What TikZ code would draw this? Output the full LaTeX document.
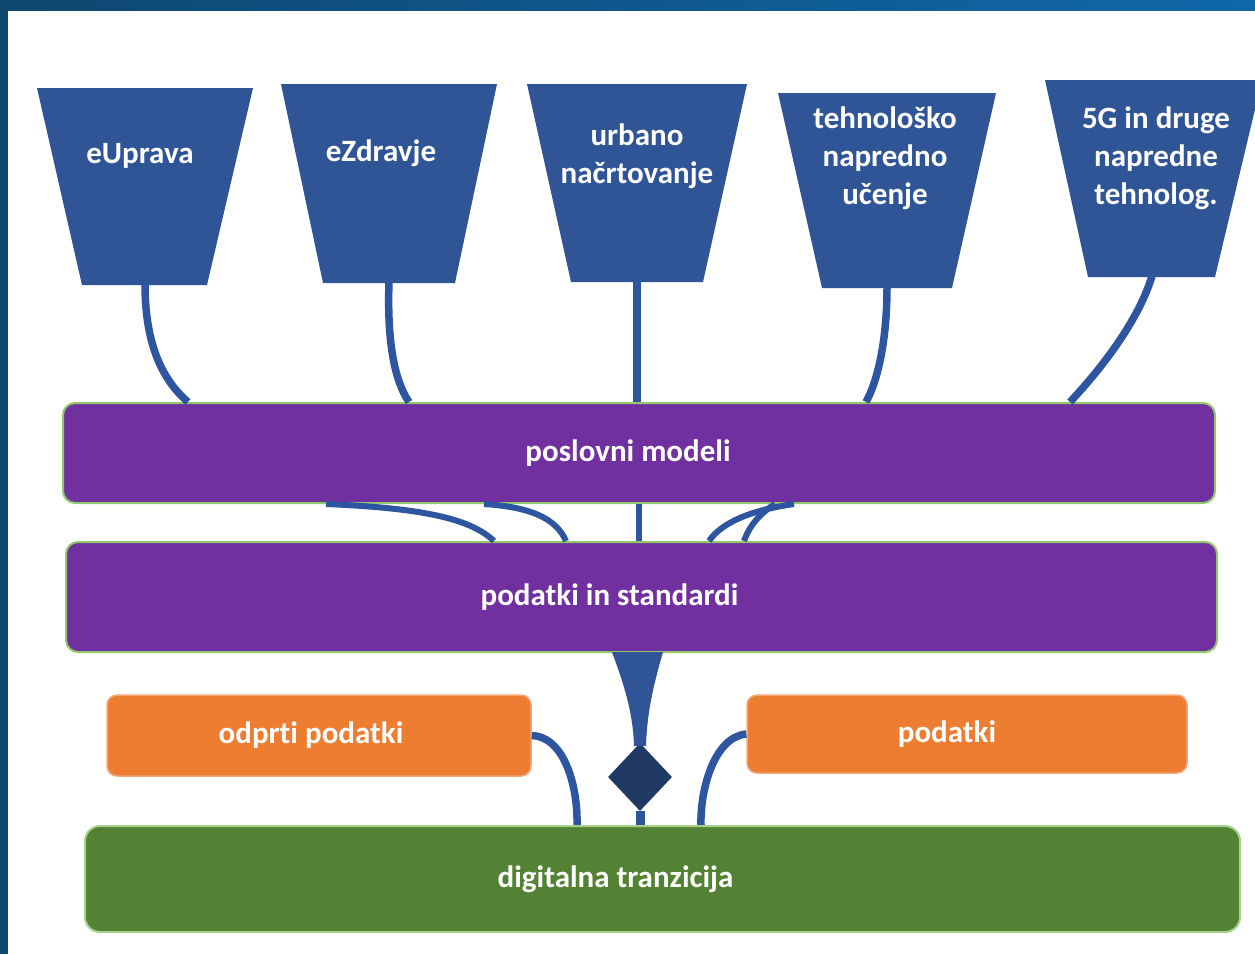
\documentclass[tikz,border=0pt]{standalone}
\usepackage{fontspec}
\setmainfont[Ligatures=NoCommon]{Carlito}
\usetikzlibrary{shapes.geometric}
\definecolor{tblue}{HTML}{2F5597}
\definecolor{lnblue}{HTML}{2E55A0}
\definecolor{purp}{HTML}{7030A0}
\definecolor{lgreen}{HTML}{93C86A}
\definecolor{orng}{HTML}{ED7D31}
\definecolor{lorng}{HTML}{F4A77A}
\definecolor{dgreen}{HTML}{548235}
\definecolor{lgreen2}{HTML}{A9D18E}
\definecolor{navy}{HTML}{1F3864}
\definecolor{barL}{HTML}{0E4770}
\definecolor{barR}{HTML}{1068A9}
\begin{document}
\begin{tikzpicture}[x=1pt,y=-1pt,
  trap/.style={fill=tblue},
  ttext/.style={text=white, font=\bfseries\fontsize{31}{38}\selectfont, align=center, inner sep=0pt},
  bartext/.style={text=white, font=\bfseries\fontsize{31}{38}\selectfont, inner sep=0pt},
  pbar/.style={bartext, rectangle, rounded corners=12pt, fill=purp, draw=lgreen, line width=2pt},
  obox/.style={bartext, rectangle, rounded corners=10pt, fill=orng, draw=lorng, line width=1.5pt},
  gbar/.style={bartext, rectangle, rounded corners=15pt, fill=dgreen, draw=lgreen2, line width=2pt},
  conn/.style={draw=lnblue, line width=7.5pt},
  thin/.style={draw=lnblue, line width=6pt}]
\useasboundingbox (0,0) rectangle (1255,954);
\fill[white] (0,0) rectangle (1255,954);
% frame
\shade[left color=barL, right color=barR] (0,0) rectangle (1255,10);
\fill[barL] (0,0) rectangle (8,954);

% trapezoids
\fill[trap] (37,88) -- (253,88) -- (207,285) -- (82,285) -- cycle;
\coordinate (t1) at (145,284);
\fill[trap] (281,84) -- (497,84) -- (455,283) -- (323,283) -- cycle;
\coordinate (t2) at (389,282);
\fill[trap] (527,84) -- (747,84) -- (703,282) -- (571,282) -- cycle;
\coordinate (t3) at (637,281);
\fill[trap] (778,93) -- (996,93) -- (952,288) -- (822,288) -- cycle;
\coordinate (t4) at (887,287);
\fill[trap] (1045,80) -- (1262,80) -- (1215,277) -- (1088,277) -- cycle;
\coordinate (t5) at (1152,276);

\node[ttext] (l1) at (140,156) {eUprava};
\node[ttext] (l2) at (381,153) {eZdravje};
\node[ttext] (l3) at (637,156) {urbano\\načrtovanje};
\node[ttext] (l4) at (885,158) {tehnološko\\napredno\\učenje};
\node[ttext] (l5) at (1156,158) {5G in druge\\napredne\\tehnolog.};

% bars
\node[pbar, minimum width=1152pt, minimum height=100pt] (b1) at (639,453) {poslovni modeli\hspace*{22pt}};
\node[pbar, minimum width=1151pt, minimum height=110pt] (b2) at (641.5,597) {podatki in standardi\hspace*{64pt}};
\node[obox, minimum width=424pt, minimum height=81pt] (o1) at (319,735.5) {odprti podatki\hspace*{16pt}};
\node[obox, minimum width=440pt, minimum height=78pt] (o2) at (967,734) {podatki\hspace*{40pt}};
\node[gbar, minimum width=1155pt, minimum height=106pt] (g) at (662.5,879) {digitalna tranzicija\hspace*{94pt}};

% connectors trapezoids -> poslovni modeli
\draw[conn] (t1) .. controls (145,340) and (160,378) .. (b1.north -| 188,0);
\draw[conn] (t2) .. controls (387,340) and (394,380) .. (b1.north -| 409,0);
\draw[conn] (t3) -- (t3 |- b1.north);
\draw[conn] (t4) .. controls (887,340) and (878,380) .. (b1.north -| 866,0);
\draw[conn] (t5) .. controls (1138,322) and (1100,370) .. (b1.north -| 1070,0);

% connectors poslovni modeli -> podatki in standardi
\draw[thin] (b1.south -| 326,0) .. controls (420,508) and (470,518) .. (b2.north -| 494,0);
\draw[thin] (b1.south -| 484,0) .. controls (530,507) and (556,518) .. (b2.north -| 566,0);
\draw[thin] (b1.south -| 639,0) -- (b2.north -| 639,0);
\draw[thin] (b1.south -| 794,0) .. controls (752,510) and (722,522) .. (b2.north -| 709,0);
\draw[thin] (b1.south -| 775,0) .. controls (762,512) and (750,524) .. (b2.north -| 744,0);

% diamond and funnel
\node[diamond, fill=navy, minimum width=64pt, minimum height=68pt, inner sep=0pt] (d) at (640,777) {};
\fill[tblue] (612,652) .. controls (626,690) and (633,715) .. (634,746) -- (646,746)
  .. controls (647,715) and (652,690) .. (663,652) -- cycle;
\draw[draw=tblue, line width=9pt] (d.south) -- (d.south |- g.north);

% side connectors
\draw[conn] (o1.east) .. controls (566,737) and (578,790) .. (g.north -| 577,0);
\draw[conn] (o2.west) .. controls (714,737) and (700,790) .. (g.north -| 701,0);
\end{tikzpicture}
\end{document}
